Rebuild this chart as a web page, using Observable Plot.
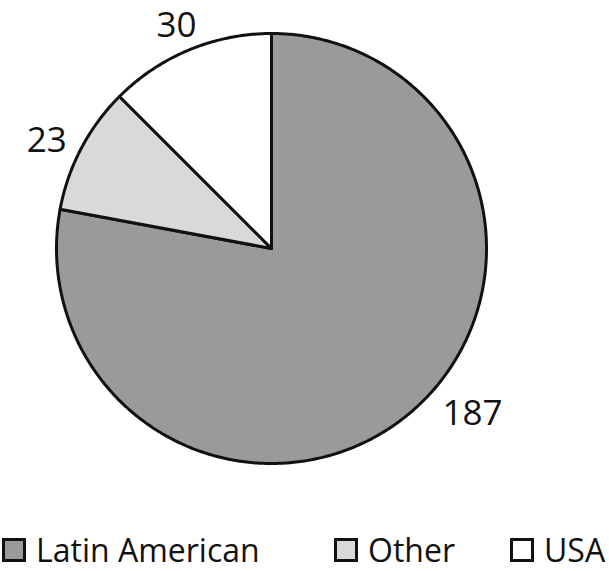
<!DOCTYPE html>
<html>
<head>
<meta charset="utf-8">
<script src="https://cdn.jsdelivr.net/npm/d3@7"></script>
<script src="https://cdn.jsdelivr.net/npm/@observablehq/plot@0.6"></script>
<style>
  html, body { margin: 0; padding: 0; background: #fff; }
  #wrap { position: relative; width: 609px; height: 571px; font-family: "Open Sans", sans-serif; }
  #legend { position: absolute; left: 0; top: 530px; width: 609px; height: 40px; }
  .item { position: absolute; top: 0; display: flex; align-items: center; font-size: 32px; color: #111; line-height: 40px; white-space: nowrap; }
  .sw { width: 18px; height: 18px; border: 3px solid #111; margin-right: 10px; }
</style>
</head>
<body>
<div id="wrap"><div id="chart"></div><div id="legend"></div></div>
<script>
// Data
const categories = ["Latin American", "Other", "USA"];
const values = [187, 23, 30];
const colors = ["#9a9a9a", "#d9d9d9", "#ffffff"];
// label radius (in pie radii) and angle shift (degrees) per slice
const labelRadius = [1.207, 1.161, 1.132];
const labelShift = [-11, -2, -0.5];

const W = 609, H = 520;
const cx = 271, cy = 248, R = 215;

const pie = d3.pie().sort(null).value(d => d.value);
const rows = categories.map((c, i) => ({category: c, value: values[i], color: colors[i], i}));
const arcs = pie(rows);

// polygon points in unit coords (y up), angle from 12 o'clock clockwise
const pts = [];
for (const a of arcs) {
  const n = Math.max(4, Math.ceil((a.endAngle - a.startAngle) / 0.01));
  pts.push({k: a.data.category, x: 0, y: 0, c: a.data.color});
  for (let j = 0; j <= n; j++) {
    const t = a.startAngle + (a.endAngle - a.startAngle) * j / n;
    pts.push({k: a.data.category, x: Math.sin(t), y: Math.cos(t), c: a.data.color});
  }
  pts.push({k: a.data.category, x: 0, y: 0, c: a.data.color});
}
const labels = arcs.map(a => {
  const i = a.data.i;
  const t = (a.startAngle + a.endAngle) / 2 + labelShift[i] * Math.PI / 180;
  return {x: labelRadius[i] * Math.sin(t), y: labelRadius[i] * Math.cos(t), text: String(a.data.value)};
});

const chart = Plot.plot({
  width: W, height: H,
  margin: 0,
  style: {background: "#fff", fontFamily: "'Open Sans', sans-serif", overflow: "visible"},
  x: {domain: [-cx / R, (W - cx) / R], range: [0, W], axis: null},
  y: {domain: [cy / R, -(H - cy) / R], range: [0, H], axis: null},
  marks: [
    Plot.line(pts, {x: "x", y: "y", z: "k", fill: "c", stroke: "#111", strokeWidth: 3, strokeLinejoin: "round", curve: "linear"}),
    Plot.text(labels, {x: "x", y: "y", text: "text", fontSize: 35, fill: "#111", dy: 1})
  ]
});
document.getElementById("chart").appendChild(chart);

const legendX = [2, 334, 510];
const lg = document.getElementById("legend");
categories.forEach((c, i) => {
  const it = document.createElement("div");
  it.className = "item";
  it.style.left = legendX[i] + "px";
  const sw = document.createElement("div");
  sw.className = "sw";
  sw.style.background = colors[i];
  it.appendChild(sw);
  it.appendChild(document.createTextNode(c));
  lg.appendChild(it);
});
</script>
</body>
</html>
